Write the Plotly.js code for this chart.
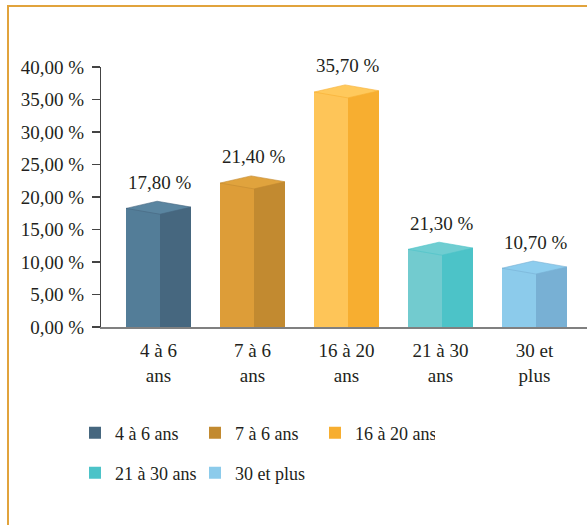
<!DOCTYPE html>
<html><head><meta charset="utf-8">
<script src="https://cdn.plot.ly/plotly-3.0.1.min.js"></script>
<style>
html,body{margin:0;padding:0;background:#fff}
#wrap{position:relative;width:587px;height:525px;overflow:hidden}
#chart{width:587px;height:525px}
#frame{position:absolute;left:7px;top:5px;width:700px;height:700px;border-left:2px solid #E1A33C;border-top:2px solid #E1A33C;pointer-events:none}
</style>
</head><body><div id="wrap"><div id="chart"></div><div id="frame"></div></div>
<script>
// ---- data ----
const categories = ["4 à 6<br>ans", "7 à 6<br>ans", "16 à 20<br>ans", "21 à 30<br>ans", "30 et<br>plus"];
const seriesNames = ["4 à 6 ans", "7 à 6 ans", "16 à 20 ans", "21 à 30 ans", "30 et plus"];
const barValues = [17.8, 21.7, 35.7, 11.5, 8.6];
const valueLabels = ["17,80 %", "21,40 %", "35,70 %", "21,30 %", "10,70 %"];
const yTickVals = [0, 5, 10, 15, 20, 25, 30, 35, 40];
const yTickText = ["0,00 %", "5,00 %", "10,00 %", "15,00 %", "20,00 %", "25,00 %", "30,00 %", "35,00 %", "40,00 %"];

// ---- style ----
const frontColors = ["#537d98", "#dd9d38", "#fec558", "#72cbcf", "#8ccbeb"];
const sideColors  = ["#46677f", "#c28a30", "#f7ae30", "#4cc3c8", "#78b0d4"];
const topColors   = ["#5a85a0", "#e0a33d", "#ffc95c", "#6fcdd1", "#8dcdee"];
const legendFromFront = [false, false, false, false, true];
const legendGroups = ["legend", "legend", "legend", "legend2", "legend2"];
const FONT = "Liberation Serif, Times New Roman, serif";
const TXT = "#231f20";

// 3D geometry (in axis units)
const xA = -0.345, xB = 0.015, xC = 0.345;
const dA = 0.45, dB = -0.45, dC = 0.65, dD = 1.55;

const traces = [];
const tops = [];
categories.forEach((c, i) => {
  const v = barValues[i];
  traces.push({
    type: "bar", x: [i + (xA + xB) / 2], y: [v + dA], width: [xB - xA],
    marker: {color: frontColors[i], line: {width: 0}},
    name: seriesNames[i], showlegend: legendFromFront[i], legend: legendGroups[i],
    hoverinfo: "skip"
  });
  traces.push({
    type: "bar", x: [i + (xB + xC) / 2], y: [v + dC], width: [xC - xB],
    marker: {color: sideColors[i], line: {width: 0}},
    name: seriesNames[i], showlegend: !legendFromFront[i], legend: legendGroups[i],
    hoverinfo: "skip"
  });
  tops.push({
    type: "scatter", mode: "lines", fill: "toself",
    x: [i + xA, i + xB, i + xC, i + (xA + xC - xB), i + xA],
    y: [v + dA, v + dB, v + dC, v + dD, v + dA],
    fillcolor: topColors[i], line: {width: 0.6, color: sideColors[i]},
    showlegend: false, hoverinfo: "skip"
  });
});

const annotations = barValues.map((v, i) => ({
  x: i + 0.02, y: v + dD, xref: "x", yref: "y",
  text: valueLabels[i], showarrow: false, yanchor: "middle", yshift: 19,
  font: {family: FONT, size: 19, color: TXT}
}));

const legendCommon = {
  orientation: "h", xref: "container", yref: "container",
  x: 75 / 587, xanchor: "left", yanchor: "middle",
  entrywidth: 75, font: {family: FONT, size: 18, color: TXT},
  bgcolor: "rgba(0,0,0,0)", itemclick: false, itemdoubleclick: false
};

const layout = {
  width: 587, height: 525,
  margin: {l: 101, r: 0, t: 67, b: 198, pad: 0},
  paper_bgcolor: "#ffffff", plot_bgcolor: "#ffffff",
  barmode: "overlay", bargap: 0,
  font: {family: FONT, size: 19, color: TXT},
  xaxis: {
    range: [-0.612, 4.559], tickmode: "array",
    tickvals: categories.map((c, i) => i), ticktext: categories,
    showgrid: false, zeroline: false, showline: true, linecolor: "#808080", linewidth: 1.5,
    ticks: "", ticklabelstandoff: 6, tickfont: {family: FONT, size: 19, color: TXT}
  },
  yaxis: {
    range: [0, 40], tickmode: "array", tickvals: yTickVals, ticktext: yTickText,
    showgrid: false, zeroline: false, showline: true, linecolor: "#444444", linewidth: 1.2,
    ticks: "outside", ticklen: 8, tickcolor: "#444444", tickwidth: 1.2,
    ticklabelstandoff: 4, tickfont: {family: FONT, size: 19, color: TXT}
  },
  legend: Object.assign({}, legendCommon, {y: 1 - 433 / 525}),
  legend2: Object.assign({}, legendCommon, {y: 1 - 473 / 525}),
  annotations: annotations,
  showlegend: true
};

Plotly.newPlot("chart", traces.concat(tops), layout, {displayModeBar: false, staticPlot: true});
</script>
</body></html>
